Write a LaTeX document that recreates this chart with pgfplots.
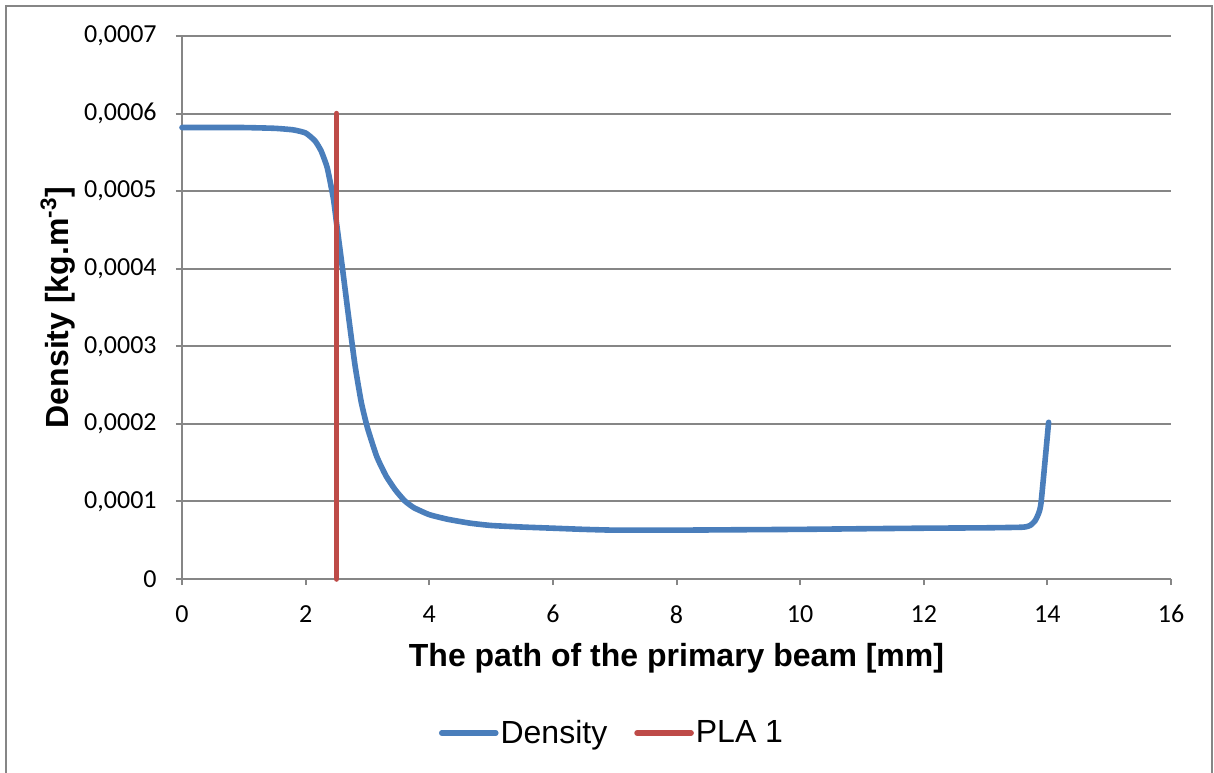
\documentclass[border=0pt]{standalone}
\usepackage{pgfplots}
\pgfplotsset{compat=1.18}
\usepackage{fontspec}
\setmainfont{Liberation Sans}
\newfontfamily\carlito{Carlito}
\definecolor{exblue}{HTML}{4A7EBB}
\definecolor{exred}{HTML}{BE4B48}
\definecolor{exgray}{HTML}{868686}
\begin{document}
\begin{tikzpicture}
\useasboundingbox (-91pt,-96.5pt) rectangle (516pt,289.5pt);
\draw[exgray, line width=1pt] (-88pt,-100pt) -- (-88pt,286.5pt) -- (515.2pt,286.5pt) -- (515.2pt,-100pt);
\begin{axis}[
  at={(0pt,0pt)}, anchor=south west,
  scale only axis, width=494.5pt, height=271.5pt,
  xmin=0, xmax=16, ymin=0, ymax=0.0007,
  axis lines*=left,
  axis line style={exgray, line width=1pt},
  tick style={exgray, line width=1pt},
  tick align=outside, major tick length=3pt,
  xtick={0,2,4,6,8,10,12,14,16},
  xticklabels={0,2,4,6,8,10,12,14,16},
  ytick={0,0.0001,0.0002,0.0003,0.0004,0.0005,0.0006,0.0007},
  yticklabels={0,{0,0001},{0,0002},{0,0003},{0,0004},{0,0005},{0,0006},{0,0007}},
  scaled y ticks=false,
  ymajorgrids, grid style={exgray, line width=1pt},
  ticklabel style={font=\carlito\fontsize{13}{15}\selectfont, text=black},
  yticklabel style={anchor=east, inner sep=0pt, xshift=-9.5pt},
  xticklabel style={anchor=north, inner sep=0pt, yshift=-10pt},
  xlabel={The path of the primary beam [mm]},
  ylabel={Density [kg.m\textsuperscript{-3}]},
  label style={font=\bfseries\fontsize{16}{19}\selectfont},
  xlabel style={at={(axis description cs:0.5,-0.1455)}, anchor=center},
  ylabel style={at={(axis description cs:-0.1254,0.5)}, anchor=center},
  legend columns=2,
  legend style={draw=none, fill=none, at={(axis description cs:0.4348,-0.2836)}, anchor=center,
    font=\fontsize{16}{19}\selectfont, inner sep=0pt,
    nodes={inner sep=1pt},
    /tikz/every odd column/.style={column sep=0pt},
    /tikz/every even column/.style={column sep=12.5pt}},
  legend cell align=left,
  legend image code/.code={\draw[#1, line cap=round] (0pt,0pt) -- (27pt,0pt);},
  clip=false,
]
\addplot[exblue, line width=2.8pt, line join=round, line cap=round, smooth, tension=0.3] coordinates {
(0,0.000582) (0.5,0.000582) (1.0,0.000582) (1.5,0.000581) (1.8,0.000579)
(2.0,0.000575) (2.15,0.000565) (2.25,0.000552) (2.35,0.000530) (2.45,0.000490)
(2.5,0.000459) (2.6,0.000398) (2.7,0.000335) (2.8,0.000275) (2.9,0.000228)
(3.0,0.000195) (3.15,0.000158) (3.3,0.000133) (3.45,0.000115) (3.6,0.000101)
(3.75,0.000092) (4.0,0.000083) (4.3,0.000077) (4.66,0.000072) (5.0,0.000069)
(5.5,0.000067) (6.0,0.0000655) (6.5,0.000064) (7.0,0.000063) (8.0,0.000063)
(9.0,0.0000635) (10.0,0.000064) (11.0,0.0000648) (12.0,0.0000655) (13.0,0.000066)
(13.6,0.0000668) (13.72,0.000069) (13.8,0.000075) (13.86,0.000085) (13.9,0.000100)
(14.02,0.000202)
};
\addlegendentry{Density}
\addplot[exred, line width=2.8pt, line cap=round] coordinates {(2.5,0) (2.5,0.0006)};
\addlegendentry{PLA 1}
\end{axis}
\end{tikzpicture}
\end{document}
